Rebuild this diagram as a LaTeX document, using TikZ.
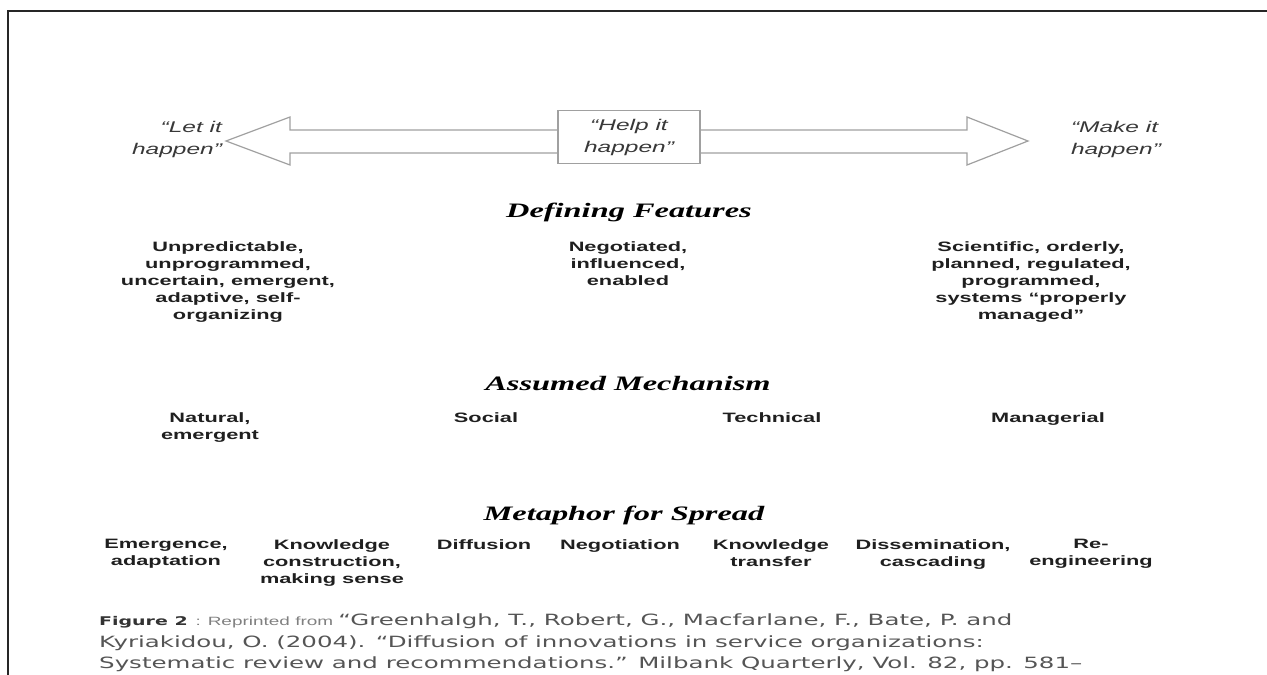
\documentclass[tikz,border=0pt]{standalone}
\usepackage{fontspec}
\setmainfont{Liberation Serif}
\newfontfamily\lblfont[FakeStretch=1.58]{Liberation Sans}
\newfontfamily\bodyfont[FakeStretch=1.6]{Liberation Sans}
\newfontfamily\hdfont[FakeStretch=1.58]{Liberation Serif}
\newfontfamily\capfont[FakeStretch=1.58]{DejaVu Sans}
\usetikzlibrary{calc}
\definecolor{boxgray}{HTML}{A0A0A0}
\definecolor{txtgray}{HTML}{383838}
\definecolor{capgray}{HTML}{555555}
\tikzset{
  lbl/.style={inner sep=0pt, anchor=north, align=center, text=black!88,
    font=\bodyfont\bfseries\fontsize{13.6}{17}\selectfont},
  pole/.style={inner sep=0pt, anchor=north, text=txtgray,
    font=\lblfont\itshape\fontsize{15.5}{22}\selectfont},
  head/.style={inner sep=0pt, anchor=base,
    font=\hdfont\bfseries\itshape\fontsize{20.5}{24}\selectfont},
}

\begin{document}
\begin{tikzpicture}[x=1pt,y=-1pt]
    \useasboundingbox (0,0) rectangle (1267,675);
    \draw[line width=2.2pt,black!85] (8,675) -- (8,11) -- (1267,11);

    \draw[boxgray,line width=1.2pt] (226,141) -- (290,117) -- (290,130) -- (967,130) -- (967,117)
        -- (1028,141) -- (967,165) -- (967,153) -- (290,153) -- (290,165) -- cycle;
    \node[pole,align=center,anchor=center,draw=boxgray,line width=1.2pt,fill=white,
        minimum width=142pt,minimum height=53pt] (help) at (629,137) {“Help it\\happen”};
    \node[pole,align=right] (let) at (177,121) {“Let it\\happen”};
    \node[pole,align=left] (make) at (1116,121) {“Make it\\happen”};

    \node[head] (hfeat) at (629,217) {Defining Features};
    \node[head] (hmech) at (628,390) {Assumed Mechanism};
    \node[head] (hmeta) at (624,520) {Metaphor for Spread};

    \node[lbl] (feat1) at (228,241) {Unpredictable,\\unprogrammed,\\uncertain, emergent,\\adaptive, self-\\organizing};
    \node[lbl] (feat2) at (628,241) {Negotiated,\\influenced,\\enabled};
    \node[lbl] (feat3) at (1031,241) {Scientific, orderly,\\planned, regulated,\\programmed,\\systems “properly\\managed”};

    \foreach \x/\t [count=\i] in {210/{Natural,\\emergent}, 486/Social, 772/Technical, 1048/Managerial}
        \node[lbl] (mech\i) at (\x,412) {\t};

    \foreach \x/\t [count=\i] in {166/{Emergence,\\adaptation}, 332/{Knowledge\\construction,\\making sense},
        484/Diffusion, 620/Negotiation, 771/{Knowledge\\transfer}, 933/{Dissemination,\\cascading},
        1091/{Re-\\engineering}}
        \node[lbl] (meta\i) at (\x,539) {\t};

    \node[anchor=north west,inner sep=0pt,align=left,text=capgray,
        font=\capfont\fontsize{15.5}{21.5}\selectfont] (cap) at (99,614)
        {{\fontsize{12}{12}\selectfont\bfseries\color{black!80}Figure 2}\ {\lblfont\fontsize{12}{12}\selectfont\color{black!50}: Reprinted from }“Greenhalgh, T., Robert, G., Macfarlane, F., Bate, P. and\\
        Kyriakidou, O. (2004). “Diffusion of innovations in service organizations:\\
        Systematic review and recommendations.” Milbank Quarterly, Vol. 82, pp. 581–};
\end{tikzpicture}
\end{document}
